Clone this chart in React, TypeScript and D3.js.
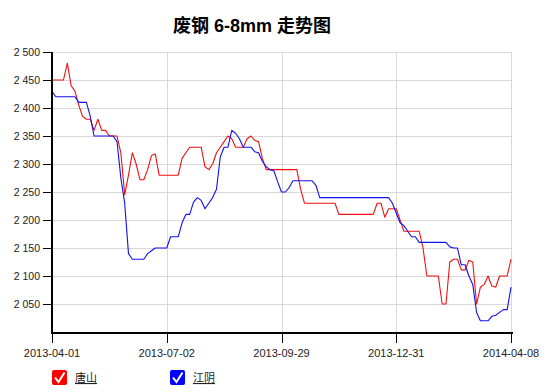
import React from "react";
import * as d3 from "d3";

const title = "废钢 6-8mm 走势图";
const seriesNames = ["唐山", "江阴"];
const seriesColors = ["#f01010", "#1010f0"];
const legendColors = ["#ff0000", "#0000ff"];
const xTickLabels = ["2013-04-01", "2013-07-02", "2013-09-29", "2013-12-31", "2014-04-08"];
const yTicks = [2050, 2100, 2150, 2200, 2250, 2300, 2350, 2400, 2450, 2500];

const tangshan = [
  2450, 2450, 2450, 2450, 2480, 2440, 2430, 2405, 2385, 2380,
  2380, 2360, 2380, 2360, 2360, 2350, 2350, 2350, 2320, 2245,
  2280, 2320, 2300, 2272, 2272, 2290, 2315, 2318, 2280, 2280,
  2280, 2280, 2280, 2280, 2310, 2320, 2330, 2330, 2330, 2330,
  2295, 2290, 2300, 2320, 2330, 2340, 2350, 2345, 2330, 2330,
  2330, 2345, 2350, 2342, 2340, 2310, 2290, 2290, 2290, 2290,
  2290, 2290, 2290, 2290, 2290, 2255, 2230, 2230, 2230, 2230,
  2230, 2230, 2230, 2230, 2230, 2210, 2210, 2210, 2210, 2210,
  2210, 2210, 2210, 2210, 2210, 2230, 2230, 2205, 2220, 2220,
  2220, 2200, 2180, 2180, 2180, 2180, 2180, 2150, 2100, 2100,
  2100, 2100, 2050, 2050, 2125, 2130, 2130, 2111, 2111, 2128,
  2125, 2050, 2080, 2085, 2100, 2082, 2080, 2100, 2100, 2100,
  2130,
];

const jiangyin = [
  2430, 2420, 2420, 2420, 2420, 2420, 2420, 2410, 2410, 2410,
  2385, 2350, 2350, 2350, 2350, 2350, 2350, 2340, 2275, 2230,
  2140, 2130, 2130, 2130, 2130, 2140, 2145, 2150, 2150, 2150,
  2150, 2170, 2170, 2170, 2195, 2210, 2210, 2232, 2240, 2235,
  2220, 2230, 2240, 2255, 2313, 2330, 2330, 2360, 2355, 2345,
  2330, 2330, 2330, 2322, 2320, 2305, 2295, 2290, 2288, 2268,
  2250, 2250, 2258, 2270, 2270, 2270, 2270, 2270, 2270, 2262,
  2240, 2240, 2240, 2240, 2240, 2240, 2240, 2240, 2240, 2240,
  2240, 2240, 2240, 2240, 2240, 2240, 2240, 2240, 2240, 2230,
  2212, 2195, 2190, 2180, 2170, 2170, 2160, 2160, 2160, 2160,
  2160, 2160, 2160, 2160, 2152, 2150, 2150, 2120, 2120, 2100,
  2085, 2035, 2020, 2020, 2020, 2028, 2030, 2035, 2040, 2040,
  2080,
];

const W = 555;
const H = 392;
const left = 52;
const right = 511;
const top = 52;
const bottom = 332;

const locale = d3.formatLocale({ decimal: ".", thousands: " ", grouping: [3], currency: ["", ""] });
const fmt = locale.format(",");

export default function App() {
  const n = tangshan.length;
  const x = d3.scaleLinear().domain([0, n - 1]).range([left, right]);
  const y = d3.scaleLinear().domain([2000, 2500]).range([bottom, top]);
  const line = d3
    .line<number>()
    .x((_, i) => x(i))
    .y((d) => y(d));
  const xTickIdx = xTickLabels.map((_, i) => (i * (n - 1)) / (xTickLabels.length - 1));
  const series = [tangshan, jiangyin];
  const font = "'Liberation Sans', Arial, sans-serif";

  return (
    <svg
      width={W}
      height={H}
      style={{ position: "absolute", left: 0, top: 0, background: "#fff" }}
      fontFamily={font}
    >
      <text
        x={252}
        y={32}
        textAnchor="middle"
        fontSize={18}
        fontWeight="bold"
        fontFamily="'Liberation Sans', 'Noto Sans CJK SC', sans-serif"
        fill="#000"
      >
        {title}
      </text>

      {/* horizontal grid */}
      {yTicks.map((t) => (
        <line key={"hg" + t} x1={left} x2={right} y1={y(t) + 0.5} y2={y(t) + 0.5} stroke="#d9d9d9" strokeWidth={1} />
      ))}
      {/* vertical grid */}
      {xTickIdx.slice(1).map((t, i) => (
        <line key={"vg" + i} x1={Math.round(x(t)) + 0.5} x2={Math.round(x(t)) + 0.5} y1={top} y2={bottom} stroke="#d9d9d9" strokeWidth={1} />
      ))}

      {/* series lines */}
      {series.map((s, k) => (
        <path key={"s" + k} d={line(s) || ""} fill="none" stroke={seriesColors[k]} strokeWidth={1.1} strokeLinejoin="round" />
      ))}

      {/* y axis */}
      <line x1={left} x2={left} y1={top} y2={bottom + 2} stroke="#000" strokeWidth={2} />
      {yTicks.map((t) => (
        <g key={"yt" + t}>
          <line x1={43} x2={left} y1={y(t) + 0.5} y2={y(t) + 0.5} stroke="#000" strokeWidth={1} />
          <text x={40} y={y(t) + 4} textAnchor="end" fontSize={10.5} fill="#222">
            {fmt(t)}
          </text>
        </g>
      ))}

      {/* x axis */}
      <line x1={left - 1} x2={right + 2} y1={bottom + 1} y2={bottom + 1} stroke="#000" strokeWidth={2} />
      {xTickIdx.map((t, i) => (
        <g key={"xt" + i}>
          <line x1={Math.round(x(t)) + 0.5} x2={Math.round(x(t)) + 0.5} y1={bottom} y2={343} stroke="#000" strokeWidth={1} />
          <text x={x(t)} y={357} textAnchor="middle" fontSize={11} fill="#222">
            {xTickLabels[i]}
          </text>
        </g>
      ))}

      {/* legend */}
      {seriesNames.map((name, k) => {
        const lx = 52 + k * 118;
        const ly = 370;
        return (
          <g key={"lg" + k}>
            <rect x={lx} y={ly} width={15} height={15} rx={2} fill={legendColors[k]} />
            <path
              d={`M${lx + 3},${ly + 7.5} L${lx + 6.5},${ly + 12} L${lx + 12.5},${ly + 2.5}`}
              fill="none"
              stroke="#fff"
              strokeWidth={2}
            />
            <text
              x={lx + 23}
              y={ly + 12}
              fontSize={11}
              fill="#222"
              textDecoration="underline"
              fontFamily="'Noto Sans CJK SC', sans-serif"
            >
              {name}
            </text>
          </g>
        );
      })}
    </svg>
  );
}
